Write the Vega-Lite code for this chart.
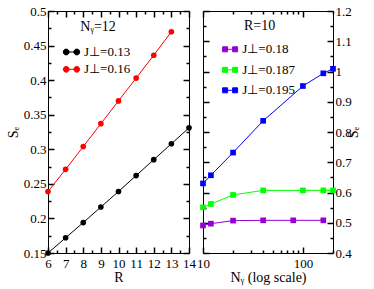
{
  "$schema": "https://vega.github.io/schema/vega-lite/v6.json",
  "padding": {"left": 5, "top": 4, "right": 5, "bottom": 5},
  "config": {
    "font": "Liberation Serif",
    "view": {"stroke": "black", "strokeWidth": 1},
    "axis": {"domain": false, "grid": false, "labelFont": "Liberation Serif", "labelFontSize": 13, "labelColor": "black", "titleFont": "Liberation Serif", "titleFontSize": 14, "titleFontWeight": "normal", "titleColor": "black", "tickColor": "black", "tickWidth": 1.5, "labelOverlap": false, "labelFlush": false},
    "legend": {"orient": "none", "labelFont": "Liberation Serif", "labelFontSize": 13, "labelColor": "black", "titleFont": "Liberation Serif", "titleFontSize": 14, "titleFontWeight": "normal", "titleColor": "black"}
  },
  "spacing": 14,
  "bounds": "flush",
  "resolve": {"scale": {"color": "independent"}, "legend": {"color": "independent"}},
  "hconcat": [
    {
      "name": "L",
      "width": 141,
      "height": 242,
      "data": {"values": [
        {"R": 6, "S": 0.150, "series": "J⊥=0.13"},
        {"R": 7, "S": 0.172, "series": "J⊥=0.13"},
        {"R": 8, "S": 0.194, "series": "J⊥=0.13"},
        {"R": 9, "S": 0.2165, "series": "J⊥=0.13"},
        {"R": 10, "S": 0.239, "series": "J⊥=0.13"},
        {"R": 11, "S": 0.262, "series": "J⊥=0.13"},
        {"R": 12, "S": 0.285, "series": "J⊥=0.13"},
        {"R": 13, "S": 0.308, "series": "J⊥=0.13"},
        {"R": 14, "S": 0.331, "series": "J⊥=0.13"},
        {"R": 6, "S": 0.239, "series": "J⊥=0.16"},
        {"R": 7, "S": 0.271, "series": "J⊥=0.16"},
        {"R": 8, "S": 0.304, "series": "J⊥=0.16"},
        {"R": 9, "S": 0.337, "series": "J⊥=0.16"},
        {"R": 10, "S": 0.370, "series": "J⊥=0.16"},
        {"R": 11, "S": 0.403, "series": "J⊥=0.16"},
        {"R": 12, "S": 0.436, "series": "J⊥=0.16"},
        {"R": 13, "S": 0.470, "series": "J⊥=0.16"}
      ]},
      "resolve": {"axis": {"x": "independent", "y": "independent"}},
      "layer": [
        {
          "mark": {"type": "line", "strokeWidth": 1, "point": {"filled": true, "size": 32, "opacity": 1}},
          "encoding": {
            "x": {"field": "R", "type": "quantitative", "scale": {"domain": [6, 14], "nice": false, "zero": false},
              "axis": {"orient": "bottom", "title": "R", "titlePadding": 0, "tickColor": "black", "tickWidth": 1.5, "tickSize": -6, "labelPadding": 10,
                "values": [6, 7, 8, 9, 10, 11, 12, 13, 14]}},
            "y": {"field": "S", "type": "quantitative", "scale": {"domain": [0.15, 0.5], "nice": false, "zero": false},
              "axis": {"orient": "left", "title": "Sₑ", "titlePadding": 3, "tickColor": "black", "tickWidth": 1.5, "tickSize": -6, "labelPadding": 8,
                "values": [0.15, 0.2, 0.25, 0.3, 0.35, 0.4, 0.45, 0.5],
                "labelExpr": "'' + datum.value"}},
            "color": {"field": "series", "type": "nominal",
              "scale": {"domain": ["J⊥=0.13", "J⊥=0.16"], "range": ["black", "red"]},
              "legend": {"title": "Nᵧ=12", "legendX": 17, "legendY": 9, "titleAnchor": "middle", "titlePadding": 11.5,
                "symbolType": "M-1,0H1M-0.45,0A0.55,0.55,0,1,1,-1.55,0A0.55,0.55,0,1,1,-0.45,0M1.55,0A0.55,0.55,0,1,1,0.45,0A0.55,0.55,0,1,1,1.55,0",
                "symbolSize": 112, "symbolStrokeWidth": 1, "labelOffset": 6, "rowPadding": 3.3,
                "encode": {"symbols": {"update": {"fill": {"signal": "scale('L_color', datum.value)"}, "stroke": {"signal": "scale('L_color', datum.value)"}}}}}}
          }
        },
        {
          "mark": {"type": "point", "opacity": 0},
          "encoding": {
            "x": {"field": "R", "type": "quantitative",
              "axis": {"orient": "bottom", "title": null, "labels": false, "tickColor": "black", "tickWidth": 1.5, "tickSize": -3,
                "values": [6.5, 7.5, 8.5, 9.5, 10.5, 11.5, 12.5, 13.5]}},
            "y": {"field": "S", "type": "quantitative",
              "axis": {"orient": "left", "title": null, "labels": false, "tickColor": "black", "tickWidth": 1.5, "tickSize": -3,
                "values": [0.175, 0.225, 0.275, 0.325, 0.375, 0.425, 0.475]}}
          }
        },
        {
          "mark": {"type": "point", "opacity": 0},
          "encoding": {
            "x": {"field": "R", "type": "quantitative",
              "axis": {"orient": "top", "title": null, "labels": false, "tickColor": "black", "tickWidth": 1.5, "tickSize": -6,
                "values": [6, 7, 8, 9, 10, 11, 12, 13, 14]}},
            "y": {"field": "S", "type": "quantitative",
              "axis": {"orient": "right", "title": null, "labels": false, "tickColor": "black", "tickWidth": 1.5, "tickSize": -6,
                "values": [0.15, 0.2, 0.25, 0.3, 0.35, 0.4, 0.45, 0.5]}}
          }
        },
        {
          "mark": {"type": "point", "opacity": 0},
          "encoding": {
            "x": {"field": "R", "type": "quantitative",
              "axis": {"orient": "top", "title": null, "labels": false, "tickColor": "black", "tickWidth": 1.5, "tickSize": -3,
                "values": [6.5, 7.5, 8.5, 9.5, 10.5, 11.5, 12.5, 13.5]}},
            "y": {"field": "S", "type": "quantitative",
              "axis": {"orient": "right", "title": null, "labels": false, "tickColor": "black", "tickWidth": 1.5, "tickSize": -3,
                "values": [0.175, 0.225, 0.275, 0.325, 0.375, 0.425, 0.475]}}
          }
        }
      ]
    },
    {
      "name": "Rt",
      "width": 130,
      "height": 242,
      "data": {"values": [
        {"N": 10, "S": 0.491, "series": "J⊥=0.18"},
        {"N": 12, "S": 0.497, "series": "J⊥=0.18"},
        {"N": 20, "S": 0.507, "series": "J⊥=0.18"},
        {"N": 40, "S": 0.508, "series": "J⊥=0.18"},
        {"N": 80, "S": 0.508, "series": "J⊥=0.18"},
        {"N": 160, "S": 0.508, "series": "J⊥=0.18"},
        {"N": 10, "S": 0.551, "series": "J⊥=0.187"},
        {"N": 12, "S": 0.562, "series": "J⊥=0.187"},
        {"N": 20, "S": 0.592, "series": "J⊥=0.187"},
        {"N": 40, "S": 0.607, "series": "J⊥=0.187"},
        {"N": 100, "S": 0.607, "series": "J⊥=0.187"},
        {"N": 160, "S": 0.607, "series": "J⊥=0.187"},
        {"N": 200, "S": 0.607, "series": "J⊥=0.187"},
        {"N": 10, "S": 0.630, "series": "J⊥=0.195"},
        {"N": 12, "S": 0.657, "series": "J⊥=0.195"},
        {"N": 20, "S": 0.732, "series": "J⊥=0.195"},
        {"N": 40, "S": 0.837, "series": "J⊥=0.195"},
        {"N": 100, "S": 0.952, "series": "J⊥=0.195"},
        {"N": 160, "S": 0.994, "series": "J⊥=0.195"},
        {"N": 200, "S": 1.009, "series": "J⊥=0.195"}
      ]},
      "resolve": {"axis": {"x": "independent", "y": "independent"}},
      "layer": [
        {
          "mark": {"type": "line", "strokeWidth": 1, "point": {"filled": true, "shape": "square", "size": 32, "opacity": 1}},
          "encoding": {
            "x": {"field": "N", "type": "quantitative", "scale": {"type": "log", "domain": [10, 200], "nice": false},
              "axis": {"orient": "bottom", "title": "Nᵧ (log scale)", "titlePadding": 0, "tickColor": "black", "tickWidth": 1.5, "tickSize": -6, "labelPadding": 10,
                "values": [10, 100], "labelExpr": "'' + datum.value"}},
            "y": {"field": "S", "type": "quantitative", "scale": {"domain": [0.4, 1.2], "nice": false, "zero": false},
              "axis": {"orient": "right", "title": "Sₑ", "titlePadding": 9, "titleAngle": 270, "tickColor": "black", "tickWidth": 1.5, "tickSize": -6, "labelPadding": 8,
                "values": [0.4, 0.5, 0.6, 0.7, 0.8, 0.9, 1, 1.1, 1.2],
                "labelExpr": "'' + datum.value"}},
            "color": {"field": "series", "type": "nominal",
              "scale": {"domain": ["J⊥=0.18", "J⊥=0.187", "J⊥=0.195"], "range": ["#9400d3", "#00ff00", "#0000ff"]},
              "legend": {"title": "R=10", "legendX": 20.6, "legendY": 8, "titleAnchor": "middle", "titlePadding": 9.8,
                "symbolType": "M-1,0H1M-1.5,-0.5H-0.5V0.5H-1.5ZM0.5,-0.5H1.5V0.5H0.5Z",
                "symbolSize": 100, "symbolStrokeWidth": 1, "labelOffset": 5.7, "rowPadding": 6.5,
                "encode": {"symbols": {"update": {"fill": {"signal": "scale('Rt_color', datum.value)"}, "stroke": {"signal": "scale('Rt_color', datum.value)"}}}}}}
          }
        },
        {
          "mark": {"type": "point", "opacity": 0},
          "encoding": {
            "x": {"field": "N", "type": "quantitative",
              "axis": {"orient": "bottom", "title": null, "labels": false, "tickColor": "black", "tickWidth": 1.5, "tickSize": -3,
                "values": [20, 30, 40, 50, 60, 70, 80, 90, 200]}},
            "y": {"field": "S", "type": "quantitative",
              "axis": {"orient": "right", "title": null, "labels": false, "tickColor": "black", "tickWidth": 1.5, "tickSize": -3,
                "values": [0.45, 0.55, 0.65, 0.75, 0.85, 0.95, 1.05, 1.15]}}
          }
        },
        {
          "mark": {"type": "point", "opacity": 0},
          "encoding": {
            "x": {"field": "N", "type": "quantitative",
              "axis": {"orient": "top", "title": null, "labels": false, "tickColor": "black", "tickWidth": 1.5, "tickSize": -6,
                "values": [10, 100]}},
            "y": {"field": "S", "type": "quantitative",
              "axis": {"orient": "left", "title": null, "labels": false, "tickColor": "black", "tickWidth": 1.5, "tickSize": -6,
                "values": [0.4, 0.5, 0.6, 0.7, 0.8, 0.9, 1, 1.1, 1.2]}}
          }
        },
        {
          "mark": {"type": "point", "opacity": 0},
          "encoding": {
            "x": {"field": "N", "type": "quantitative",
              "axis": {"orient": "top", "title": null, "labels": false, "tickColor": "black", "tickWidth": 1.5, "tickSize": -3,
                "values": [20, 30, 40, 50, 60, 70, 80, 90, 200]}},
            "y": {"field": "S", "type": "quantitative",
              "axis": {"orient": "left", "title": null, "labels": false, "tickColor": "black", "tickWidth": 1.5, "tickSize": -3,
                "values": [0.45, 0.55, 0.65, 0.75, 0.85, 0.95, 1.05, 1.15]}}
          }
        }
      ]
    }
  ]
}
